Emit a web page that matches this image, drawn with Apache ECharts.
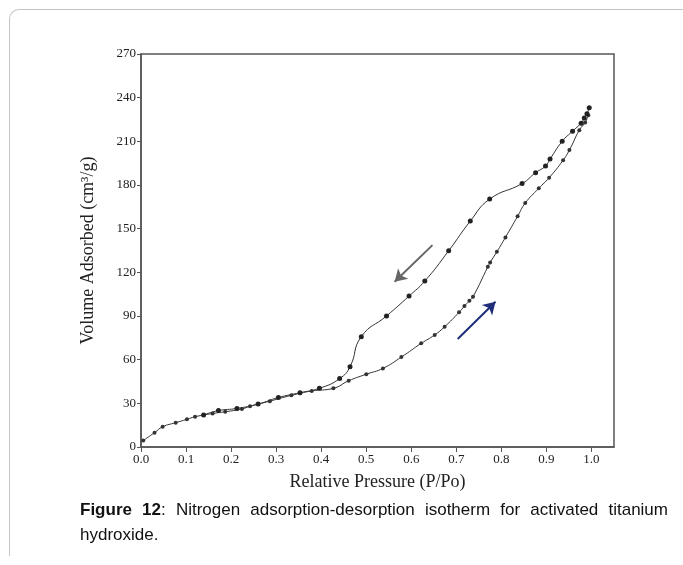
<!DOCTYPE html>
<html>
<head>
<meta charset="utf-8">
<script src="https://cdn.jsdelivr.net/npm/echarts@6/dist/echarts.min.js"></script>
<style>
  body { margin: 0; background: #fff; }
  #wrap { position: relative; width: 683px; height: 565px; overflow: hidden; }
  #frame {
    position: absolute; left: 9px; top: 9px; width: 700px; height: 546px;
    border-top: 1.5px solid #c4c4c4; border-left: 1.5px solid #c4c4c4;
    border-top-left-radius: 10px;
  }
  #chart { position: absolute; left: 0; top: 0; width: 683px; height: 565px; }
  #caption {
    position: absolute; left: 80px; top: 497px; width: 588px;
    font-family: 'Liberation Sans', Arial, sans-serif; font-size: 17px;
    line-height: 25px; text-align: justify; color: #111;
  }
</style>
</head>
<body>
<div id="wrap">
  <div id="frame"></div>
  <div id="chart"></div>
  <div id="caption"><b>Figure 12</b>: Nitrogen adsorption-desorption isotherm for activated titanium hydroxide.</div>
</div>
<script>
// adsorption branch (lower curve, going up)
const adsP = [0.005, 0.03, 0.048, 0.077, 0.102, 0.12, 0.159, 0.187, 0.224, 0.242, 0.286, 0.334, 0.379, 0.427,
  0.461, 0.5, 0.537, 0.578, 0.622, 0.652, 0.674, 0.706, 0.718, 0.729, 0.737, 0.77, 0.775, 0.79, 0.809,
  0.836, 0.853, 0.883, 0.906, 0.937, 0.951, 0.973, 0.986, 0.993]
const adsV = [4.5, 9.8, 13.9, 16.7, 19, 20.8, 23, 24.2, 26.1, 28, 31.5, 35.5, 38.5, 40.3,
  45.5, 50, 54, 61.8, 71.2, 77, 82.6, 92.5, 96.8, 100.5, 103.2, 123.8, 126.8, 134.1, 144,
  158.5, 167.6, 177.7, 185, 197, 204, 217.7, 223, 228]
// desorption branch (upper curve, coming down)
const desP = [0.995, 0.99, 0.984, 0.977, 0.958, 0.935, 0.908, 0.898, 0.876, 0.846, 0.774, 0.731, 0.683,
  0.63, 0.595, 0.545, 0.489, 0.464, 0.441, 0.396, 0.353, 0.305, 0.26, 0.213, 0.172, 0.139]
const desV = [233, 229, 226, 222.5, 217, 210, 197.8, 193, 188.5, 181, 170.3, 155.2, 134.8,
  114, 103.7, 90, 75.8, 55.2, 47, 40.3, 37.3, 34, 29.5, 26.5, 25, 22]
// direction arrows [start, end] in data units
const desArrow = [[0.647, 138.7], [0.563, 113.5]]
const adsArrow = [[0.703, 74.2], [0.787, 99.8]]

const serif = "'Liberation Serif', 'Times New Roman', serif"
const chart = echarts.init(document.getElementById('chart'))
const zip = (xs, ys) => xs.map((x, i) => [x, ys[i]])

chart.setOption({
  animation: false,
  grid: {
    left: 141, right: 69, top: 54, bottom: 118,
    show: true, borderColor: '#555', borderWidth: 1.5
  },
  xAxis: {
    type: 'value',
    min: 0, max: 1.05, interval: 0.1,
    name: 'Relative Pressure (P/Po)',
    nameLocation: 'middle', nameGap: 26,
    nameTextStyle: { fontFamily: serif, fontSize: 18, color: '#222' },
    axisLine: { lineStyle: { color: '#555', width: 1.5 } },
    axisTick: { length: 5, lineStyle: { color: '#555' } },
    axisLabel: {
      fontFamily: serif, fontSize: 13, color: '#222', margin: 6,
      showMaxLabel: false,
      formatter: v => v > 1.001 ? '' : v.toFixed(1)
    },
    splitLine: { show: false }
  },
  yAxis: {
    type: 'value',
    min: 0, max: 270, interval: 30,
    name: 'Volume Adsorbed (cm³/g)',
    nameLocation: 'middle', nameGap: 44,
    nameTextStyle: { fontFamily: serif, fontSize: 18, color: '#222' },
    axisLine: { lineStyle: { color: '#555', width: 1.5 } },
    axisTick: { length: 4, lineStyle: { color: '#555' } },
    axisLabel: { fontFamily: serif, fontSize: 13, color: '#222', margin: 5 },
    splitLine: { show: false }
  },
  series: [{
    name: 'adsorption',
    type: 'line',
    smooth: 0.5,
    symbol: 'circle',
    symbolSize: 4,
    itemStyle: { color: '#333' },
    lineStyle: { color: '#333', width: 1 },
    data: zip(adsP, adsV),
    markLine: {
      silent: true,
      symbol: ['none', 'arrow'],
      symbolSize: [11, 12],
      label: { show: false },
      lineStyle: { color: '#1f2d7a', width: 2, type: 'solid' },
      data: [[{ coord: adsArrow[0] }, { coord: adsArrow[1] }]]
    }
  }, {
    name: 'desorption',
    type: 'line',
    smooth: 0.5,
    symbol: 'circle',
    symbolSize: 5,
    itemStyle: { color: '#222' },
    lineStyle: { color: '#333', width: 1 },
    data: zip(desP, desV),
    markLine: {
      silent: true,
      symbol: ['none', 'arrow'],
      symbolSize: [11, 12],
      label: { show: false },
      lineStyle: { color: '#666', width: 2, type: 'solid' },
      data: [[{ coord: desArrow[0] }, { coord: desArrow[1] }]]
    }
  }]
})
</script>
</body>
</html>
